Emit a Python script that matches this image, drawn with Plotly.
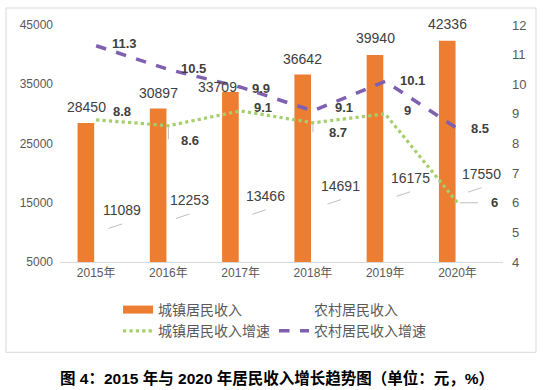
import plotly.graph_objects as go

years = ["2015年", "2016年", "2017年", "2018年", "2019年", "2020年"]
urban_income = [28450, 30897, 33709, 36642, 39940, 42336]
rural_income = [11089, 12253, 13466, 14691, 16175, 17550]
urban_growth = [8.8, 8.6, 9.1, 8.7, 9, 6]
rural_growth = [11.3, 10.5, 9.9, 9.1, 10.1, 8.5]
left_ticks = [5000, 15000, 25000, 35000, 45000]
right_ticks = [4, 5, 6, 7, 8, 9, 10, 11, 12]

FONT = "Liberation Sans, Noto Sans CJK SC, sans-serif"
LABEL = "#404040"
TICK = "#595959"
ORANGE = "#ED7D31"
GREEN = "#A5CF6B"
PURPLE = "#7E5FB0"
LEADER = "#BFBFBF"

fig = go.Figure()
fig.add_trace(go.Bar(
    x=years, y=urban_income, name="城镇居民收入", showlegend=False,
    marker=dict(color=ORANGE, line=dict(width=0)),
    width=0.23, offset=-0.257,
))
fig.add_trace(go.Bar(
    x=years, y=rural_income, name="农村居民收入", showlegend=False,
    marker=dict(color="rgba(0,0,0,0)", line=dict(width=0)),
    width=0.23, offset=0.03, hoverinfo="skip",
))
fig.add_trace(go.Scatter(
    x=years, y=urban_growth, name="城镇居民收入增速", yaxis="y2", mode="lines",
    line=dict(color=GREEN, width=3.2, dash="dot"), legendrank=3,
))
fig.add_trace(go.Scatter(
    x=years, y=rural_growth, name="农村居民收入增速", yaxis="y2", mode="lines",
    line=dict(color=PURPLE, width=3.5, dash="dash"), legendrank=4,
))
# legend-only entries for the bar series (wide swatch like the reference)
fig.add_trace(go.Scatter(
    x=[None], y=[None], name="城镇居民收入", mode="lines",
    line=dict(color=ORANGE, width=8), legendrank=1,
))
fig.add_trace(go.Scatter(
    x=[None], y=[None], name="农村居民收入", mode="lines",
    line=dict(color="rgba(0,0,0,0)", width=8), legendrank=2,
))

annotations = []
# urban income labels
urban_dx = [-10, -10, -23, -10, -10, -10]
urban_dy = [16, 16, 5, 16, 17, 17]
for i, (yr, v) in enumerate(zip(years, urban_income)):
    annotations.append(dict(x=yr, y=v, xref="x", yref="y", text=str(v), showarrow=False,
                            xanchor="center", yanchor="middle",
                            xshift=urban_dx[i], yshift=urban_dy[i],
                            font=dict(size=14, color=LABEL, family=FONT)))
# rural income labels + faint leader lines
rural_dx = [26, 21, 25, 28, 25, 24]
rural_dy = [16, 19, 16, 19, 18, 14]
for i, (yr, v) in enumerate(zip(years, rural_income)):
    annotations.append(dict(x=yr, y=v, xref="x", yref="y", text=str(v), showarrow=False,
                            xanchor="center", yanchor="middle",
                            xshift=rural_dx[i], yshift=rural_dy[i],
                            font=dict(size=14, color=LABEL, family=FONT)))
    annotations.append(dict(x=yr, y=v, xref="x", yref="y", text="", showarrow=True,
                            arrowhead=0, arrowwidth=1, arrowcolor=LEADER,
                            ax=-15, ay=5, xshift=rural_dx[i], yshift=rural_dy[i] - 14))
# growth labels
ug_dx = [26, 22, 22, 25, 22, 37]
ug_dy = [8, -15, 3, -10, 3, 0]
for i, (yr, v) in enumerate(zip(years, urban_growth)):
    annotations.append(dict(x=yr, y=v, xref="x", yref="y2", text="<b>%s</b>" % v,
                            showarrow=False, xanchor="center", yanchor="middle",
                            xshift=ug_dx[i], yshift=ug_dy[i],
                            font=dict(size=13, color=LABEL, family=FONT)))
rg_dx = [28, 25, 20, 31, 27, 22]
rg_dy = [2, 1, -1, 3, 1, 0]
for i, (yr, v) in enumerate(zip(years, rural_growth)):
    annotations.append(dict(x=yr, y=v, xref="x", yref="y2", text="<b>%s</b>" % v,
                            showarrow=False, xanchor="center", yanchor="middle",
                            xshift=rg_dx[i], yshift=rg_dy[i],
                            font=dict(size=13, color=LABEL, family=FONT)))
# leader lines for a few growth labels
annotations.append(dict(x=years[5], y=urban_growth[5], xref="x", yref="y2", text="",
                        showarrow=True, arrowhead=0, arrowwidth=1, arrowcolor=LEADER,
                        ax=20, ay=0, xshift=2))
annotations.append(dict(x=years[1], y=urban_growth[1], xref="x", yref="y2", text="",
                        showarrow=True, arrowhead=0, arrowwidth=1, arrowcolor=LEADER,
                        ax=0, ay=14, yshift=-1))
annotations.append(dict(x=years[3], y=urban_growth[3], xref="x", yref="y2", text="",
                        showarrow=True, arrowhead=0, arrowwidth=1, arrowcolor=LEADER,
                        ax=0, ay=10, yshift=-1))

annotations.append(dict(
    x=0.49, y=-0.489, xref="paper", yref="paper", showarrow=False,
    xanchor="center", yanchor="middle",
    text="<b>图 4：2015 年与 2020 年居民收入增长趋势图（单位：元，%）</b>",
    font=dict(size=15.5, color="#000000", family=FONT),
))

fig.update_layout(
    width=546, height=390,
    margin=dict(l=60, r=43, t=25, b=128, autoexpand=False),
    paper_bgcolor="white", plot_bgcolor="white",
    font=dict(family=FONT, color=TICK, size=12),
    barmode="overlay",
    showlegend=True,
    legend=dict(orientation="h", x=0.131, xanchor="left", y=-0.135, yanchor="top",
                entrywidth=111, entrywidthmode="pixels",
                font=dict(size=14, color=TICK, family=FONT),
                tracegroupgap=0, itemwidth=30),
    xaxis=dict(showgrid=False, showline=True, linecolor="#D9D9D9", linewidth=1,
               ticks="", tickfont=dict(size=12, color=TICK), automargin=False),
    yaxis=dict(range=[5000, 45000], tickvals=left_ticks, tickformat="d", showgrid=False,
               zeroline=False, showline=False, ticks="", automargin=False,
               tickfont=dict(size=12, color=TICK), ticklabelstandoff=6),
    yaxis2=dict(range=[4, 12], tickvals=right_ticks, overlaying="y", side="right",
                showgrid=False, zeroline=False, showline=False, ticks="", automargin=False,
                tickfont=dict(size=13, color=TICK), ticklabelstandoff=8),
    annotations=annotations,
    shapes=[dict(type="rect", xref="paper", yref="paper",
                 x0=-0.1219, x1=1.0745, y0=-0.381, y1=1.0717,
                 line=dict(color="#D9D9D9", width=1), fillcolor="rgba(0,0,0,0)", layer="below")],
)

fig.write_html("out.html", config={"displayModeBar": False},
               post_script="document.body.style.margin='0px';")
